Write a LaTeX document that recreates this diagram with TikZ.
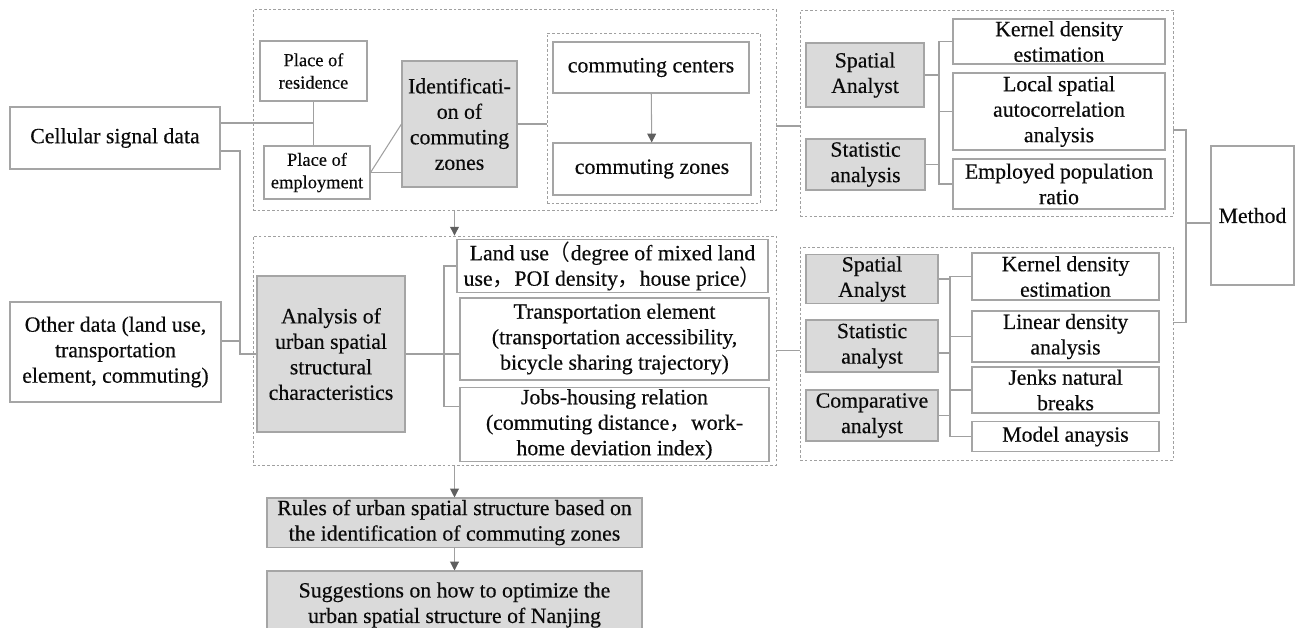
\documentclass[tikz,border=0pt]{standalone}
\usepackage{fontspec}
\setmainfont{Liberation Serif}[FakeBold=0.35]
\newfontfamily\cjkfont{Noto Sans CJK SC}
\usetikzlibrary{arrows.meta,positioning,calc}
\definecolor{cline}{RGB}{160,160,160}
\definecolor{cedge}{RGB}{165,165,165}
\definecolor{cfill}{RGB}{218,218,218}
\definecolor{carrow}{RGB}{95,95,95}
\definecolor{ctext}{RGB}{10,10,10}
\newcommand{\zw}[1]{{\cjkfont #1}}
\tikzset{
  wh/.style 2 args={
    minimum width=#1*0.02cm, minimum height=#2*0.02cm
  },
  item/.style={
    rectangle, draw=cedge, fill=white, line width=0.6pt,
    inner sep=1pt, align=center, text=ctext,
    font=\fontsize{12.4}{14.5}\selectfont
  },
  itemG/.style={
    item, fill=cfill
  },
  itemS/.style={
    item, font=\fontsize{10.5}{12.8}\selectfont
  },
  group/.style={
    rectangle, draw=cline, line width=0.5pt,
    dash pattern=on 1.5pt off 1.2pt, inner sep=0pt
  },
  ln/.style={draw=cline, line width=0.6pt},
  arr/.style={ln, -{Triangle[length=5pt, width=5pt, color=carrow]}}
}

\begin{document}
\begin{tikzpicture}[x=0.02cm, y=-0.02cm]
    \useasboundingbox (0,0) rectangle (1297,627);

    %% ---- data sources ------------------------------------------
    \node[item, wh={210}{62}] (cell) at (115,138) {Cellular signal data};
    \node[item, wh={211}{100}] (other) at (115.5,352)
      {Other data (land use,\\transportation\\element, commuting)};

    %% ---- identification of commuting zones ---------------------
    \node[group, wh={523}{201}] (grpA) at (514.5,109.5) {};
    \node[itemS, wh={107}{60}] (res) at (313.5,71) {Place of\\residence};
    \node[itemS, wh={106}{53}] (emp) at (317,172.5) {Place of\\employment};
    \node[itemG, wh={115}{126}] (ident) at (459.5,124)
      {Identificati-\\on of\\commuting\\zones};
    \node[group, wh={213}{170}] (grpZ) at (653.5,118) {};
    \node[item, wh={196}{51}] (cent) at (651,67.5) {commuting centers};
    \node[item, wh={198}{52}] (zone) at (652,169) {commuting zones};

    \draw[ln] (res) -- (res |- emp.north);
    \draw[ln] ([yshift=0.3cm]cell.east) -- ([yshift=0.3cm]cell.east -| res);
    \draw[ln] (emp.east) -- (ident.west);
    \draw[ln] (emp.east) -- (emp.east -| ident.west);
    \draw[ln] (ident.east) -- (ident.east -| grpZ.west);
    \draw[arr] (cent) -- (zone);

    %% ---- methods of the first stage ----------------------------
    \node[group, wh={373}{206}] (grpB) at (986.5,113) {};
    \node[itemG, wh={118}{64}] (sa1) at (865,75) {Spatial\\Analyst};
    \node[itemG, wh={119}{51}] (st1) at (865.5,164.5) {Statistic\\analysis};
    \node[item, wh={212}{45}] (kd1) at (1059,41.5) {Kernel density\\estimation};
    \node[item, wh={212}{77}] (lsa) at (1059,111.5)
      {Local spatial\\autocorrelation\\analysis};
    \node[item, wh={212}{50}] (epr) at (1059,184) {Employed population\\ratio};

    \coordinate (busB) at (939,0);
    \draw[ln] (sa1.east) -- (sa1.east -| busB);
    \draw[ln] (st1.east) -- (st1.east -| busB);
    \draw[ln] (kd1.west) -| (busB |- epr.west) -- (epr.west);
    \draw[ln] (lsa.west) -- (lsa.west -| busB);
    \draw[ln] ([yshift=-0.33cm]grpA.east) -- ([yshift=-0.33cm]grpA.east -| grpB.west);

    %% ---- analysis of urban spatial structure -------------------
    \node[group, wh={523}{229}] (grpC) at (514.5,350.5) {};
    \node[itemG, wh={148}{156}] (ana) at (331,354)
      {Analysis of\\urban spatial\\structural\\characteristics};
    \node[item, wh={311}{52}] (land) at (612.5,266)
      {Land use\zw{（}degree of mixed land\\use\zw{，}POI density\zw{，}house price\zw{）}};
    \node[item, wh={309}{82}] (trans) at (614.5,339)
      {Transportation element\\(transportation accessibility,\\bicycle sharing trajectory)};
    \node[item, wh={309}{73}] (jobs) at (614.5,424.5)
      {Jobs-housing relation\\(commuting distance\zw{，}work-\\home deviation index)};

    \coordinate (busL) at (240,354);
    \draw[ln] ([yshift=-0.26cm]cell.east) -| (busL) -- (ana.west);
    \draw[ln] ([yshift=0.22cm]other.east) -- ([yshift=0.22cm]other.east -| busL);

    \coordinate (busC) at (444,0);
    \coordinate (jobsIn) at ([yshift=0.36cm]jobs.west);
    \draw[ln] (ana.east) -- (ana.east -| trans.west);
    \draw[ln] (land.west) -| (busC |- jobsIn) -- (jobsIn);

    %% ---- methods of the second stage ---------------------------
    \node[group, wh={373}{213}] (grpD) at (986.5,353.5) {};
    \node[itemG, wh={132}{48}] (sa2) at (872,279) {Spatial\\Analyst};
    \node[itemG, wh={132}{52}] (st2) at (872,346) {Statistic\\analyst};
    \node[itemG, wh={132}{51}] (ca) at (872,415.5) {Comparative\\analyst};
    \node[item, wh={187}{47}] (kd2) at (1065.5,276.5) {Kernel density\\estimation};
    \node[item, wh={187}{51}] (lda) at (1065.5,336.5) {Linear density\\analysis};
    \node[item, wh={187}{46}] (jnb) at (1065.5,390) {Jenks natural\\breaks};
    \node[item, wh={187}{30}] (mod) at (1065.5,436.5) {Model anaysis};

    \coordinate (busD) at (950,0);
    \draw[ln] (sa2.east) -- (sa2.east -| busD);
    \draw[ln] ([yshift=-0.14cm]st2.east) -- ([yshift=-0.14cm]st2.east -| busD);
    \draw[ln] (ca.east) -- (ca.east -| busD);
    \draw[ln] (kd2.west) -| (busD |- mod.west) -- (mod.west);
    \draw[ln] (lda.west) -- (lda.west -| busD);
    \draw[ln] (jnb.west) -- (jnb.west -| busD);
    \draw[ln] (grpC.east) -- (grpC.east -| grpD.west);

    %% ---- method ------------------------------------------------
    \node[item, wh={83}{139}] (meth) at (1252.5,215.5) {Method};
    \coordinate (busM) at (1186,0);
    \coordinate (grpBOut) at ([yshift=-0.34cm]grpB.east);
    \coordinate (grpDOut) at ([yshift=0.62cm]grpD.east);
    \coordinate (methIn) at ([yshift=-0.15cm]meth.west);
    \draw[ln] (grpBOut) -| (busM |- grpDOut) -- (grpDOut);
    \draw[ln] (methIn) -- (methIn -| busM);

    %% ---- results -----------------------------------------------
    \node[itemG, wh={375}{49}] (rules) at (454.5,522.5)
      {Rules of urban spatial structure based on\\the identification of commuting zones};
    \node[itemG, wh={375}{68}] (sugg) at (454.5,605)
      {Suggestions on how to optimize the\\urban spatial structure of Nanjing};

    \draw[arr] (grpA.south -| rules) -- (grpC.north -| rules);
    \draw[arr] (grpC.south -| rules) -- (rules);
    \draw[arr] (rules) -- (sugg);

\end{tikzpicture}
\end{document}
